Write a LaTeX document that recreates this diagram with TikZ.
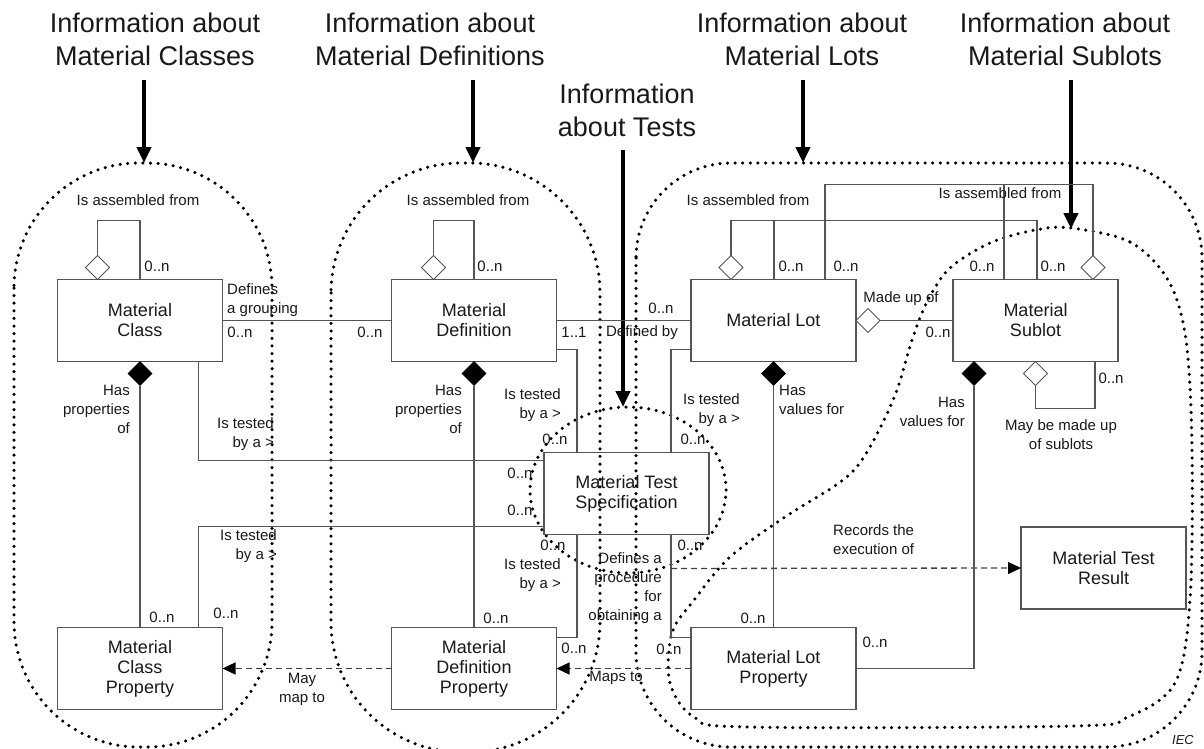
\documentclass[tikz,border=0pt]{standalone}
\usepackage{fontspec}
\setmainfont{Liberation Sans}
\usetikzlibrary{shapes.geometric,arrows.meta,calc}
\definecolor{linegray}{RGB}{85,85,85}
\definecolor{txt}{RGB}{25,25,25}

\begin{document}
\begin{tikzpicture}[x=1pt,y=-1pt,
  box/.style={draw=linegray,line width=1.4pt,minimum width=165pt,minimum height=82pt,
    inner sep=0pt,outer sep=0pt,align=center,text=txt,font=\fontsize{18}{20}\selectfont},
  conn/.style={draw=linegray,line width=1.2pt},
  hollowdia/.style={shape=diamond,draw=linegray,fill=white,line width=1pt,
    minimum width=24pt,minimum height=24pt,inner sep=0pt,outer sep=0pt},
  filleddia/.style={shape=diamond,draw=black,fill=black,line width=0.6pt,
    minimum width=24pt,minimum height=24pt,inner sep=0pt,outer sep=0pt},
  lbl/.style={font=\fontsize{15}{19}\selectfont,inner sep=0pt,text=txt},
  head/.style={font=\fontsize{27}{33}\selectfont,align=center,inner sep=0pt,text=txt},
  region/.style={draw=black,line width=3.5pt,line cap=round,dash pattern=on 0pt off 7.6pt},
  flow/.style={draw=black!75,line width=1.3pt,dash pattern=on 6pt off 4pt,
    -{Triangle[length=13pt,width=12pt,color=black,fill=black]}},
  pointer/.style={draw=black,line width=4pt,-{Triangle[length=16pt,width=14pt]}}
]
\useasboundingbox (0,0) rectangle (1204,749);

% ---------- grouping regions ----------
\draw[region,rounded corners=125pt] (14,163) rectangle (272,747);
\draw[region,rounded corners=130pt] (331,163) rectangle (600,752);
\draw[region,rounded corners=95pt] (636,163) rectangle (1202,747);
\draw[region] (628,490) ellipse [x radius=98pt, y radius=83pt];
\draw[region] plot[smooth cycle,tension=0.55] coordinates {
  (1071,228) (1130,242) (1168,280) (1186,340) (1192,450) (1190,600)
  (1175,683) (1128,717) (1074,726) (748,727) (694,717) (670,683)
  (672,633) (694,600) (730,557) (785,517) (839,483) (862,460)
  (884,420) (898,387) (913,337) (928,300) (950,268) (990,243) (1035,230)};

% ---------- headings ----------
\node[head] (hC) at (155,39) {Information about\\Material Classes};
\node[head] (hD) at (430,39) {Information about\\Material Definitions};
\node[head] (hT) at (627,110) {Information\\about Tests};
\node[head] (hL) at (802,39) {Information about\\Material Lots};
\node[head] (hS) at (1065,39) {Information about\\Material Sublots};

\coordinate (sC) at (144,80);  \coordinate (tC) at (144,163);
\coordinate (sD) at (473,80);  \coordinate (tD) at (473,163);
\coordinate (sT) at (623,150); \coordinate (tT) at (623,407);
\coordinate (sL) at (803,80);  \coordinate (tL) at (803,163);
\coordinate (sS) at (1071,80); \coordinate (tS) at (1071,229);
\draw[pointer] (sC) -- (tC);
\draw[pointer] (sD) -- (tD);
\draw[pointer] (sT) -- (tT);
\draw[pointer] (sL) -- (tL);
\draw[pointer] (sS) -- (tS);

% ---------- classes ----------
\node[box] (mc)  at (140,320.5)  {Material\\Class};
\node[box] (md)  at (474,320.5)  {Material\\Definition};
\node[box] (ml)  at (773.5,320.5) {Material Lot};
\node[box] (ms)  at (1035.5,320.5) {Material\\Sublot};
\node[box] (mts) at (626.5,493.5) {Material Test\\Specification};
\node[box] (mcp) at (140,668.5)  {Material\\Class\\Property};
\node[box] (mdp) at (474,668.5)  {Material\\Definition\\Property};
\node[box] (mlp) at (773.5,668.5) {Material Lot\\Property};
\node[box] (mtr) at (1103.5,568) {Material Test\\Result};

% ---------- Material Class associations ----------
\node[hollowdia,anchor=south] (mcA) at ($(mc.north west)+(40,0)$) {};
\draw[conn] (mcA.north) -- ++(0,-35) -| (mc.north);
\node[filleddia,anchor=north] (mcH) at (mc.south) {};
\draw[conn] (mcH.south) -- (mcp.north);
\draw[conn] (mc.east) -- (md.west);
\draw[conn] ($(mc.south west)+(141,0)$) |- ($(mts.north west)+(0,8)$);
\draw[conn] ($(mcp.north west)+(141,0)$) |- ($(mts.south west)+(0,-8)$);
\draw[flow] (mdp.west) -- (mcp.east);

% ---------- Material Definition associations ----------
\node[hollowdia,anchor=south] (mdA) at ($(md.north west)+(42,0)$) {};
\draw[conn] (mdA.north) -- ++(0,-35) -| (md.north);
\node[filleddia,anchor=north] (mdH) at (md.south) {};
\draw[conn] (mdH.south) -- (mdp.north);
\draw[conn] (md.east) -- (ml.west);
\draw[conn] ($(md.south east)+(0,-12)$) -| ($(mts.north west)+(33,0)$);
\draw[conn] ($(mts.south west)+(33,0)$) |- ($(mdp.north east)+(0,10)$);
\draw[flow] (mlp.west) -- (mdp.east);

% ---------- Material Lot associations ----------
\draw[conn] ($(ml.south west)+(0,-12)$) -| ($(mts.north east)+(-38,0)$);
\draw[conn] ($(mts.south east)+(-38,0)$) |- ($(mlp.north west)+(0,10)$);
\coordinate (rec) at ($(mts.south east)+(-38,34)$);
\draw[flow] (rec) -- (mtr.west);

\node[hollowdia,anchor=south] (mlA) at ($(ml.north west)+(40,0)$) {};
\draw[conn] (mlA.north) -- ++(0,-35) -| ($(ms.north west)+(84,0)$);
\draw[conn] ($(ml.north west)+(83,0)$) -- ++(0,-59);
\node[hollowdia,anchor=south] (msA) at ($(ms.north west)+(140,0)$) {};
\draw[conn] (msA.north) -- ++(0,-71) -| ($(ml.north west)+(134,0)$);
\draw[conn] ($(ms.north west)+(51,0)$) -- ++(0,-95);

\node[hollowdia,anchor=west] (mlS) at (ml.east) {};
\draw[conn] (mlS.east) -- (ms.west);

\node[filleddia,anchor=north] (mlH) at (ml.south) {};
\draw[conn] (mlH.south) -- (mlp.north);

% ---------- Material Sublot associations ----------
\node[filleddia,anchor=north] (msH) at ($(ms.south west)+(21,0)$) {};
\draw[conn] (msH.south) |- (mlp.east);
\node[hollowdia,anchor=north] (msB) at (ms.south) {};
\draw[conn] (msB.south) -- ++(0,23) -| ($(ms.south west)+(142,0)$);

% ---------- labels ----------
\node[lbl] (l1) at (138,200) {Is assembled from};
\node[lbl] (l2) at (157,266) {0..n};
\node[lbl,anchor=west,align=left] (l3) at (227,300) {Defines\\a grouping};
\node[lbl] (l4) at (240,332) {0..n};
\node[lbl] (l5) at (370,332) {0..n};
\node[lbl,anchor=east,align=right] (l6) at (130,409) {Has\\properties\\of};
\node[lbl,anchor=east,align=right] (l7) at (274,434) {Is tested\\by a >};
\node[lbl] (l8) at (162,617) {0..n};
\node[lbl] (l9) at (226,613) {0..n};
\node[lbl,anchor=east,align=right] (l10) at (277,546) {Is tested\\by a >};
\node[lbl] (l11) at (520,473) {0..n};
\node[lbl] (l12) at (520,510) {0..n};
\node[lbl,align=center] (l13) at (302,689) {May\\map to};

\node[lbl] (l14) at (468,200) {Is assembled from};
\node[lbl] (l15) at (490,266) {0..n};
\node[lbl,anchor=east,align=right] (l16) at (462,409) {Has\\properties\\of};
\node[lbl] (l17) at (574,332) {1..1};
\node[lbl] (l18) at (661,308) {0..n};
\node[lbl] (l19) at (642,333) {Defined by};
\node[lbl,anchor=east,align=right] (l20) at (561,405) {Is tested\\by a >};
\node[lbl] (l21) at (555,439) {0..n};
\node[lbl] (l22) at (496,618) {0..n};
\node[lbl] (l23) at (553,545) {0..n};
\node[lbl,anchor=east,align=right] (l24) at (561,575) {Is tested\\by a >};
\node[lbl] (l25) at (574,648) {0..n};
\node[lbl] (l26) at (616,678) {Maps to};

\node[lbl,anchor=east,align=right] (l27) at (662,588.5) {Defines a\\procedure\\for\\obtaining a};
\node[lbl,anchor=west,align=left] (l28) at (833,539.5) {Records the\\execution of};

\node[lbl,anchor=east,align=right] (l29) at (740,410) {Is tested\\by a >};
\node[lbl] (l30) at (693,439) {0..n};
\node[lbl] (l31) at (690,545) {0..n};
\node[lbl] (l32) at (669,649) {0..n};
\node[lbl] (l33) at (748,200) {Is assembled from};
\node[lbl] (l34) at (791,266) {0..n};
\node[lbl] (l35) at (846,266) {0..n};
\node[lbl] (l36) at (901,299) {Made up of};
\node[lbl] (l37) at (938,332) {0..n};
\node[lbl,anchor=west,align=left] (l38) at (779,399.5) {Has\\values for};
\node[lbl] (l39) at (753,618) {0..n};

\node[lbl] (l40) at (1000,193) {Is assembled from};
\node[lbl] (l41) at (982,266) {0..n};
\node[lbl] (l42) at (1053,266) {0..n};
\node[lbl,anchor=east,align=right] (l43) at (965,411.5) {Has\\values for};
\node[lbl] (l44) at (1111,378) {0..n};
\node[lbl,align=center] (l45) at (1061,435) {May be made up\\of sublots};
\node[lbl] (l46) at (875,642) {0..n};

\node[lbl,font=\fontsize{13}{15}\selectfont\itshape] (iec) at (1183,740) {IEC};
\end{tikzpicture}
\end{document}
